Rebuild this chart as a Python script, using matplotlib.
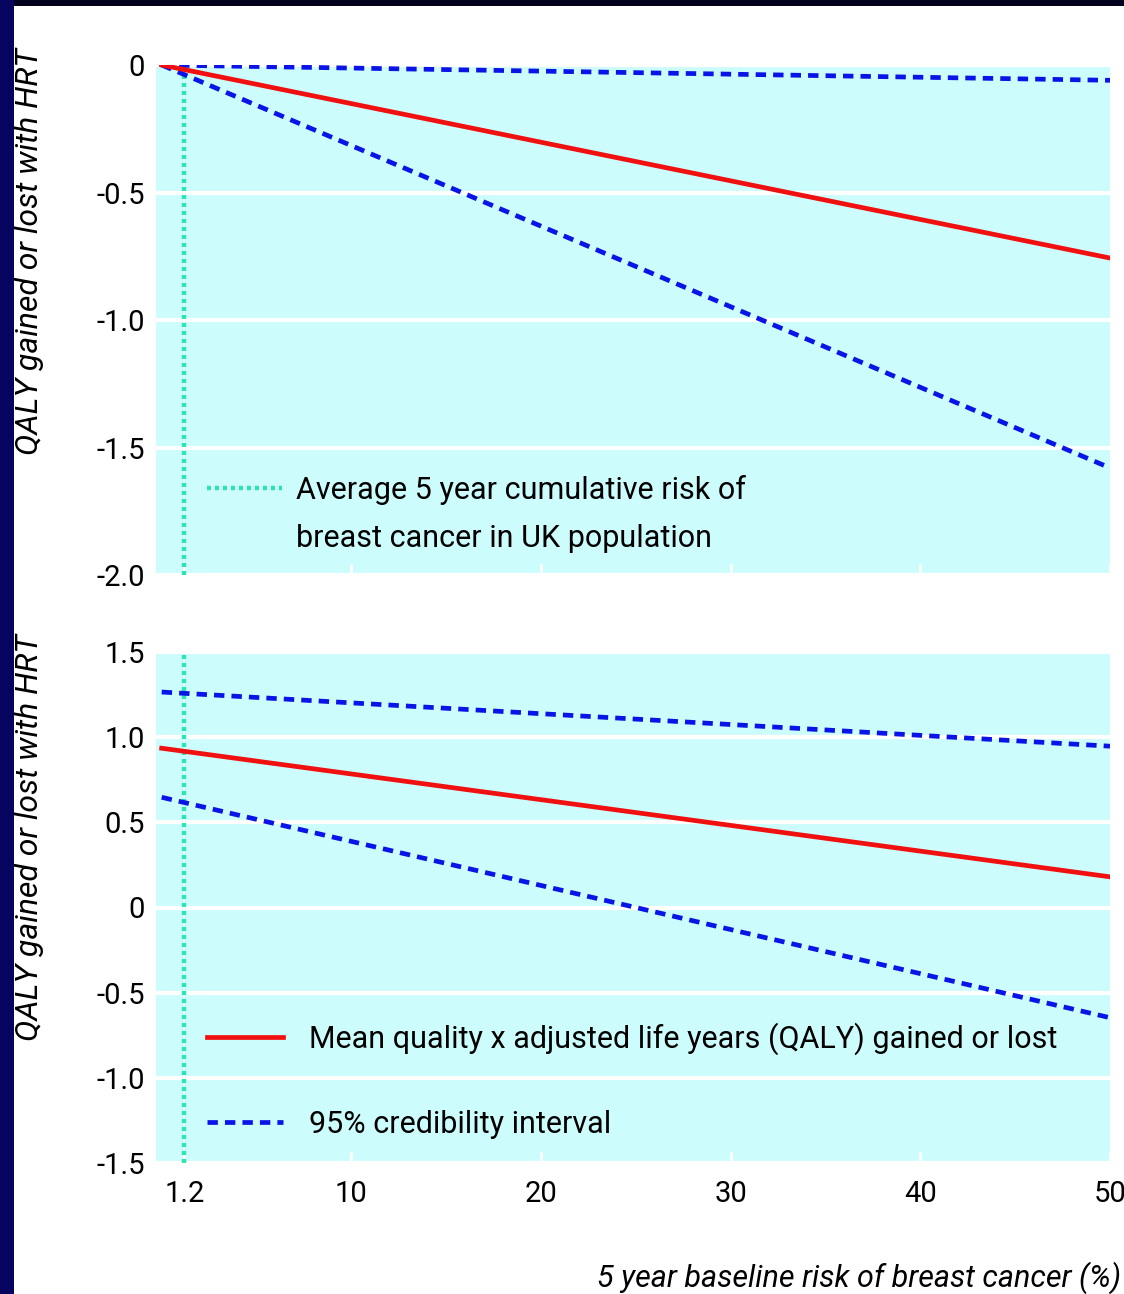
import matplotlib
matplotlib.use("Agg")
import matplotlib.pyplot as plt
from matplotlib.lines import Line2D
from matplotlib.patches import Rectangle

plt.rcParams['font.family'] = ['Roboto', 'Liberation Sans', 'DejaVu Sans']
plt.rcParams['axes.unicode_minus'] = False

# ---- data ----
risk = [0, 50]                      # 5 year baseline risk (%)
top_mean = [0.0, -0.757]
top_upper = [0.0, -0.06]
top_lower = [0.0, -1.58]
bot_mean = [0.935, 0.18]
bot_upper = [1.265, 0.947]
bot_lower = [0.647, -0.647]
uk_avg_risk = 1.2

x_ticks = [1.2, 10, 20, 30, 40, 50]
x_tick_labels = ["1.2", "10", "20", "30", "40", "50"]
top_yticks = [0, -0.5, -1.0, -1.5, -2.0]
top_ylabels = ["0", "-0.5", "-1.0", "-1.5", "-2.0"]
bot_yticks = [1.5, 1.0, 0.5, 0, -0.5, -1.0, -1.5]
bot_ylabels = ["1.5", "1.0", "0.5", "0", "-0.5", "-1.0", "-1.5"]

ylab = "QALY gained or lost with HRT"
xlab = "5 year baseline risk of breast cancer (%)"
uk_label1 = "Average 5 year cumulative risk of"
uk_label2 = "breast cancer in UK population"
mean_label = "Mean quality x adjusted life years (QALY) gained or lost"
ci_label = "95% credibility interval"

# ---- style ----
W, H = 1124, 1294
fig = plt.figure(figsize=(W / 100, H / 100), dpi=100)
fig.patch.set_facecolor('white')

BG = '#cdfcfc'
RED = '#f01010'
BLUE = '#0a14e6'
AQUA = '#2de3b5'
FS = 21
LFS = 22
LW = 3.4

# dark frame strips
fig.patches.append(Rectangle((0, 1 - 6 / H), 1, 6 / H, transform=fig.transFigure,
                             facecolor='#02021e', edgecolor='none', zorder=0))
fig.patches.append(Rectangle((0, 0), 14 / W, 1, transform=fig.transFigure,
                             facecolor='#05055f', edgecolor='none', zorder=0))

left = 156 / W
width = (1110 - 156) / W
ax1 = fig.add_axes([left, 1 - 575 / H, width, 510 / H])
ax2 = fig.add_axes([left, 1 - 1163 / H, width, 511 / H])

dash = (2.2, 1.5)
dot = (0, (0.9, 0.9))
for ax in (ax1, ax2):
    ax.set_facecolor(BG)
    for s in ax.spines.values():
        s.set_visible(False)
    ax.set_xlim(-0.3, 50)
    ax.grid(axis='y', color='white', lw=3)
    ax.set_axisbelow(True)
    ax.axvline(uk_avg_risk, color=AQUA, lw=3.2, ls=dot, zorder=2)
    ax.tick_params(axis='y', length=0, pad=8, labelsize=FS)
    ax.tick_params(axis='x', length=8, width=2, direction='in', color='white',
                   pad=12, labelsize=FS)

ax1.plot(risk, top_upper, color=BLUE, lw=LW, ls=(0, dash), zorder=3)
ax1.plot(risk, top_lower, color=BLUE, lw=LW, ls=(0, dash), zorder=3)
ax1.plot(risk, top_mean, color=RED, lw=LW, zorder=4)
ax1.set_ylim(-2.0, 0.0)
ax1.set_yticks(top_yticks)
ax1.set_yticklabels(top_ylabels)
ax1.set_xticks(x_ticks)
ax1.set_xticklabels([])

ax2.plot(risk, bot_upper, color=BLUE, lw=LW, ls=(0, dash), zorder=3)
ax2.plot(risk, bot_lower, color=BLUE, lw=LW, ls=(0, dash), zorder=3)
ax2.plot(risk, bot_mean, color=RED, lw=LW, zorder=4)
ax2.set_ylim(-1.5, 1.5)
ax2.set_yticks(bot_yticks)
ax2.set_yticklabels(bot_ylabels)
ax2.set_xticks(x_ticks)
ax2.set_xticklabels(x_tick_labels)

# legends
h_uk = Line2D([], [], color=AQUA, lw=3.2, ls=dot)
h_none = Line2D([], [], color='none')
leg1 = ax1.legend([h_uk, h_none], [uk_label1, uk_label2], loc='upper left',
                  bbox_to_anchor=(51 / 954, 100 / 510), frameon=False,
                  fontsize=LFS, handlelength=2.45, handletextpad=0.45,
                  labelspacing=0.62, borderaxespad=0, borderpad=0)

h_mean = Line2D([], [], color=RED, lw=LW)
h_ci = Line2D([], [], color=BLUE, lw=LW, ls=(0, dash))
leg2 = ax2.legend([h_mean, h_ci], [mean_label, ci_label], loc='upper left',
                  bbox_to_anchor=(51 / 954, 141 / 511), frameon=False,
                  fontsize=LFS, handlelength=2.5, handletextpad=0.85,
                  labelspacing=1.8, borderaxespad=0, borderpad=0)

# axis labels
fig.text(30 / W, 1 - 252 / H, ylab, rotation=90, ha='center', va='center',
         fontsize=23, style='italic')
fig.text(30 / W, 1 - 838 / H, ylab, rotation=90, ha='center', va='center',
         fontsize=23, style='italic')
fig.text(1121 / W, 1 - 1278 / H, xlab, ha='right', va='center',
         fontsize=LFS, style='italic')

fig.savefig('out.png', dpi=100, facecolor='white')
